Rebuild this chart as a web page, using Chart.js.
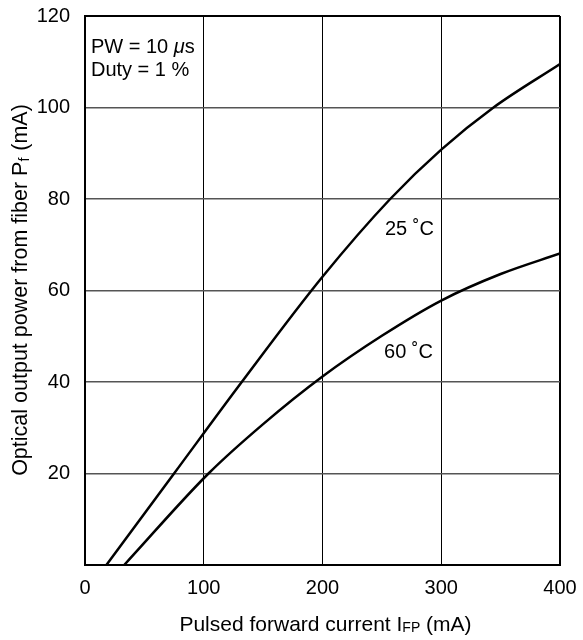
<!DOCTYPE html>
<html>
<head>
<meta charset="utf-8">
<script src="https://cdn.jsdelivr.net/npm/chart.js@4"></script>
<style>
  html, body { margin: 0; padding: 0; background: #fff; }
  #wrap { width: 583px; height: 640px; }
</style>
</head>
<body>
<div id="wrap"><canvas id="lightChart"></canvas></div>
<script>
// Curva a 25 °C
const current25 = [18, 75, 132, 200, 257, 300, 344, 400];
const power25 = [0, 20, 40, 63, 80, 90.8, 100, 109.5];

// Curva a 60 °C
const current60 = [33, 104, 150, 200, 250, 300, 350, 400];
const power60 = [0, 20, 30.8, 41.2, 50.1, 57.8, 63.6, 68.1];

const xTicks = [0, 100, 200, 300, 400];
const yTicks = [20, 40, 60, 80, 100, 120];

const FONT = "'Liberation Sans', Arial, Helvetica, sans-serif";

function toPoints(xs, ys) {
    return xs.map((x, i) => ({ x: x, y: ys[i] }));
}

// Textos dentro do gráfico e títulos dos eixos
const textPlugin = {
    id: "textPlugin",
    afterDraw(chart) {
        const ctx = chart.ctx;
        const xs = chart.scales.x;
        const ys = chart.scales.y;
        const area = chart.chartArea;
        ctx.save();
        ctx.fillStyle = "#000";
        ctx.textBaseline = "alphabetic";
        ctx.textAlign = "left";

        // PW = 10 µs
        let px = xs.getPixelForValue(5);
        let py = ys.getPixelForValue(112);
        ctx.font = "20px " + FONT;
        ctx.fillText("PW = 10 ", px, py);
        px += ctx.measureText("PW = 10 ").width;
        ctx.font = "italic 20px " + FONT;
        ctx.fillText("\u03bc", px, py);
        px += ctx.measureText("\u03bc").width;
        ctx.font = "20px " + FONT;
        ctx.fillText("s", px, py);
        ctx.fillText("Duty = 1 %", xs.getPixelForValue(5), ys.getPixelForValue(106.9));

        ctx.fillText("25 \u02daC", xs.getPixelForValue(252.6), ys.getPixelForValue(72.2));
        ctx.fillText("60 \u02daC", xs.getPixelForValue(251.8), ys.getPixelForValue(45.2));

        // título do eixo x com índice
        const xa = "Pulsed forward current I";
        const xsub = "FP";
        const xb = " (mA)";
        ctx.font = "21px " + FONT;
        const wa = ctx.measureText(xa).width;
        const wb = ctx.measureText(xb).width;
        ctx.font = "14px " + FONT;
        const wsub = ctx.measureText(xsub).width;
        let tx = (area.left + area.right) / 2 + 3 - (wa + wsub + wb) / 2;
        const ty = 631;
        ctx.font = "21px " + FONT;
        ctx.fillText(xa, tx, ty);
        tx += wa;
        ctx.font = "14px " + FONT;
        ctx.fillText(xsub, tx, ty + 1);
        tx += wsub;
        ctx.font = "21px " + FONT;
        ctx.fillText(xb, tx, ty);

        // título do eixo y com índice
        const ya = "Optical output power from fiber P";
        const ysub = "f";
        const yb = " (mA)";
        ctx.font = "21.5px " + FONT;
        const wya = ctx.measureText(ya).width;
        const wyb = ctx.measureText(yb).width;
        ctx.font = "14px " + FONT;
        const wysub = ctx.measureText(ysub).width;
        ctx.translate(27, (area.top + area.bottom) / 2);
        ctx.rotate(-Math.PI / 2);
        let sx = -(wya + wysub + wyb) / 2;
        ctx.font = "21.5px " + FONT;
        ctx.fillText(ya, sx, 0);
        sx += wya;
        ctx.font = "14px " + FONT;
        ctx.fillText(ysub, sx, 2);
        sx += wysub + 1;
        ctx.font = "21.5px " + FONT;
        ctx.fillText(yb, sx, 0);
        ctx.restore();
    }
};

const lightData = {
    datasets: [{
        label: "25 °C",
        data: toPoints(current25, power25),
        borderColor: "#000",
        borderWidth: 2.5,
        pointRadius: 0,
        showLine: true,
        cubicInterpolationMode: "monotone"
    }, {
        label: "60 °C",
        data: toPoints(current60, power60),
        borderColor: "#000",
        borderWidth: 2.5,
        pointRadius: 0,
        showLine: true,
        cubicInterpolationMode: "monotone"
    }]
};

const lightConfig = {
    type: "scatter",
    data: lightData,
    options: {
        responsive: true,
        maintainAspectRatio: false,
        animation: false,
        layout: {
            padding: { top: 16, right: 23, left: 0, bottom: 0 }
        },
        plugins: {
            legend: { display: false },
            tooltip: { enabled: false }
        },
        scales: {
            x: {
                type: "linear",
                min: 0,
                max: 400,
                afterBuildTicks(scale) {
                    scale.ticks = xTicks.map(v => ({ value: v }));
                },
                afterFit(scale) {
                    scale.height = 75;
                    scale.paddingLeft = 0;
                    scale.paddingRight = 0;
                },
                ticks: {
                    color: "#000",
                    font: { family: FONT, size: 20 },
                    padding: 11,
                    maxRotation: 0,
                    autoSkip: false
                },
                grid: {
                    drawTicks: false,
                    color: "#000",
                    lineWidth: ctx => (ctx.tick && ctx.tick.value === 400 ? 2 : 1)
                },
                border: { color: "#000", width: 2 }
            },
            y: {
                type: "linear",
                min: 0,
                max: 120,
                afterBuildTicks(scale) {
                    scale.ticks = [0].concat(yTicks).map(v => ({ value: v }));
                },
                afterFit(scale) {
                    scale.width = 85;
                    scale.paddingTop = 0;
                    scale.paddingBottom = 0;
                },
                ticks: {
                    color: "#000",
                    font: { family: FONT, size: 20 },
                    padding: 15,
                    callback: v => (v === 0 ? "" : v)
                },
                grid: {
                    drawTicks: false,
                    color: ctx => (ctx.tick && ctx.tick.value === 120 ? "#000" : "#555"),
                    lineWidth: ctx => (ctx.tick && ctx.tick.value === 120 ? 2 : 1.5)
                },
                border: { color: "#000", width: 2 }
            }
        }
    },
    plugins: [textPlugin]
};

const lightChart = new Chart(
    document.getElementById("lightChart"),
    lightConfig
);
</script>
</body>
</html>
